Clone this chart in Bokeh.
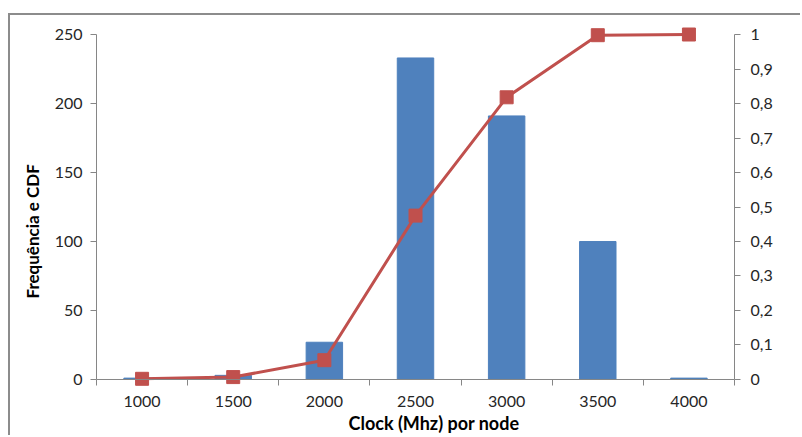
from bokeh.plotting import figure
from bokeh.models import (Range1d, LinearAxis, FixedTicker, CustomJSTickFormatter,
                          ColumnDataSource, Span, Title)
from bokeh.embed import file_html
from bokeh.resources import INLINE

# Histogram of node clock speeds with cumulative distribution
clock_labels = ["1000", "1500", "2000", "2500", "3000", "3500", "4000"]
frequency = [1, 3, 27, 233, 191, 100, 1]
cdf = [0.002, 0.007, 0.056, 0.475, 0.818, 0.998, 1.0]

left_ticks = [0, 50, 100, 150, 200, 250]
right_ticks = [0.0, 0.1, 0.2, 0.3, 0.4, 0.5, 0.6, 0.7, 0.8, 0.9, 1.0]

BAR = "#4F81BD"
LINE = "#C0504D"
AXIS = "#868686"
TEXT = "#262626"
FONT = "Lato"

FREQ_MAX = 250
PAD = 0.0232  # headroom (fraction of axis span) so end markers are not clipped

n = len(clock_labels)
centers = [i + 0.5 for i in range(n)]
bounds = list(range(n + 1))

src = ColumnDataSource(dict(x=centers, freq=frequency, cdf=cdf))

p = figure(width=792, height=422, output_backend="svg", toolbar_location=None,
           x_range=Range1d(0, n),
           y_range=Range1d(-PAD * FREQ_MAX, (1 + PAD) * FREQ_MAX),
           min_border_left=86, min_border_right=68,
           min_border_top=11, min_border_bottom=50)
p.margin = (13, 0, 0, 8)
p.styles = {"border-top": "2px solid #8c8c8c", "border-left": "2px solid #8c8c8c"}
p.outline_line_color = None
p.grid.visible = False
p.background_fill_color = "white"
p.border_fill_color = "white"

p.extra_y_ranges = {"cdf": Range1d(-PAD, 1 + PAD)}

p.vbar(x="x", top="freq", width=0.4, source=src, color=BAR)
p.add_layout(Span(location=0, dimension="width", line_color=AXIS, line_width=1))
p.line(x="x", y="cdf", source=src, y_range_name="cdf", color=LINE, line_width=3)
p.scatter(x="x", y="cdf", source=src, y_range_name="cdf", marker="square",
          size=13, color=LINE)

# x axis: labels at category centres, tick marks at category boundaries
xa = p.xaxis[0]
xa.ticker = FixedTicker(ticks=centers, minor_ticks=bounds)
xa.major_label_overrides = {c: lab for c, lab in zip(centers, clock_labels)}
xa.axis_line_color = None
xa.major_tick_line_color = None
xa.major_tick_in = 0
xa.major_tick_out = 0
xa.minor_tick_line_color = AXIS
xa.minor_tick_in = 8
xa.minor_tick_out = -2
xa.major_label_standoff = 8

ya = p.yaxis[0]
ya.ticker = FixedTicker(ticks=left_ticks)
ya.bounds = (0, FREQ_MAX)
ya.minor_tick_line_color = None
ya.major_tick_in = 0
ya.major_tick_out = 6
ya.major_label_standoff = 8

ra = LinearAxis(y_range_name="cdf", ticker=FixedTicker(ticks=right_ticks),
                bounds=(0, 1),
                formatter=CustomJSTickFormatter(
                    code="return String(Math.round(tick * 10) / 10).replace('.', ',');"))
ra.minor_tick_line_color = None
ra.major_tick_in = 0
ra.major_tick_out = 6
ra.major_label_standoff = 10
p.add_layout(ra, "right")

for ax in (ya, ra):
    ax.axis_line_color = AXIS
    ax.major_tick_line_color = AXIS

for ax in (xa, ya, ra):
    ax.major_label_text_font = FONT
    ax.major_label_text_font_size = "16px"
    ax.major_label_text_color = TEXT

title_style = dict(text_font=FONT, text_font_style="bold",
                   text_color="black", align="left")
p.add_layout(Title(text="Clock (Mhz) por node", offset=252, standoff=0,
                   text_font_size="18px", **title_style), "below")
p.add_layout(Title(text="Frequência e CDF", offset=89, standoff=18,
                   text_font_size="17px", **title_style), "left")

open("out.html", "w").write(file_html(p, INLINE))
